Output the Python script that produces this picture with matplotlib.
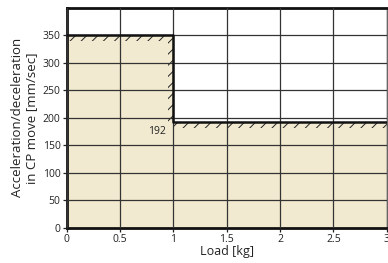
import matplotlib
matplotlib.use("Agg")
import matplotlib.pyplot as plt
import numpy as np

# limit curve
load_kg = [0, 1, 1, 3]
accel = [350, 350, 192, 192]
x_ticks = [0, 0.5, 1, 1.5, 2, 2.5, 3]
x_labels = ['0', '0.5', '1', '1.5', '2', '2.5', '3']
y_ticks = [0, 50, 100, 150, 200, 250, 300, 350]

plt.rcParams['font.family'] = ['Open Sans', 'DejaVu Sans']
plt.rcParams['hatch.linewidth'] = 0.7

fig = plt.figure(figsize=(3.88, 2.63), dpi=100)
ax = fig.add_axes([0.172, 0.134, 0.825, 0.836])

fill_col = '#f1ead0'
ax.fill_between(load_kg, 0, accel, color=fill_col, lw=0, zorder=0)

# hatch strips just inside the limit
band_y = 11
band_x = 0.05
hcol = '#222222'
ax.fill_between([load_kg[0], load_kg[1]], accel[0] - band_y, accel[0],
                facecolor='none', edgecolor=hcol, hatch='///', lw=0, zorder=1)
ax.fill_between([load_kg[2], load_kg[3]], accel[2] - band_y, accel[2],
                facecolor='none', edgecolor=hcol, hatch='///', lw=0, zorder=1)
ax.fill_betweenx([accel[2], accel[1] - band_y], load_kg[1] - band_x, load_kg[1],
                 facecolor='none', edgecolor=hcol, hatch='///', lw=0, zorder=1)

ax.plot(load_kg, accel, color='#111111', lw=1.8, zorder=3)

ax.text(0.93, 186, '192', ha='right', va='top', fontsize=7.5, color='#222222')

ax.set_xlim(0, 3)
ax.set_ylim(0, 400)
ax.set_xticks(x_ticks)
ax.set_xticklabels(x_labels)
ax.set_yticks(y_ticks)
ax.grid(True, color='#333333', lw=0.9, zorder=2)
ax.set_axisbelow(False)

for s in ['left', 'bottom', 'top']:
    ax.spines[s].set_linewidth(2.0)
    ax.spines[s].set_color('#111111')
ax.spines['right'].set_linewidth(1.0)
ax.spines['right'].set_color('#666666')

ax.tick_params(axis='both', labelsize=7.5, length=3, width=0.9, pad=1.5, colors='#222222')

ax.set_xlabel('Load [kg]', fontsize=9, labelpad=0, color='#222222')
ax.set_ylabel('Acceleration/deceleration\nin CP move [mm/sec]', fontsize=9.5,
              labelpad=3, color='#222222', linespacing=1.15)

fig.savefig('out.png', dpi=100)
